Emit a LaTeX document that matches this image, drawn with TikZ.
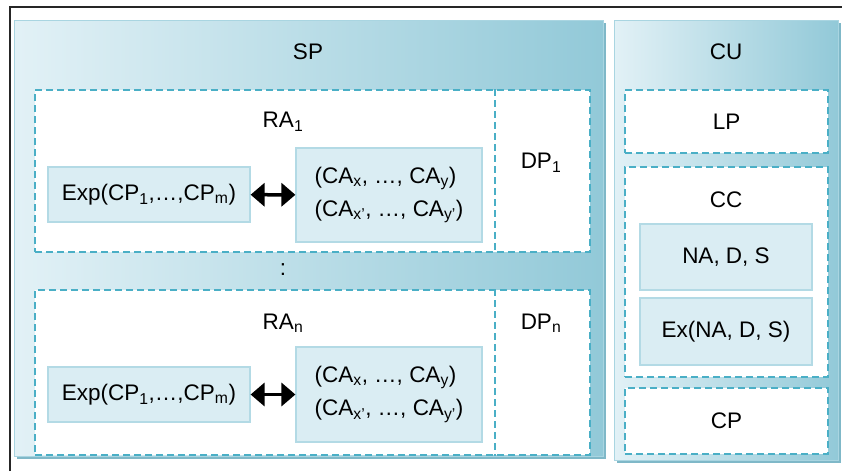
\documentclass[tikz,border=0pt]{standalone}
\usepackage{fontspec}
\setmainfont{Liberation Sans}
\usetikzlibrary{shadows,arrows.meta}

\definecolor{panelleft}{HTML}{E2F1F6}
\definecolor{panelright}{HTML}{92C9D8}
\definecolor{paneledge}{HTML}{A9D5E1}
\definecolor{shadowblue}{HTML}{7FB8C8}
\definecolor{dashblue}{HTML}{4AAFC6}
\definecolor{itemfill}{HTML}{DAEDF3}
\definecolor{itemedge}{HTML}{B3DAE5}

\tikzset{
  panel/.style={draw=paneledge, line width=1pt, left color=panelleft, right color=panelright,
    drop shadow={shadow xshift=3pt, shadow yshift=-3pt, fill=shadowblue, opacity=1}, inner sep=0pt},
  dashbox/.style={draw=dashblue, line width=1.6pt, dash pattern=on 7pt off 4pt, fill=white, inner sep=0pt},
  dashline/.style={draw=dashblue, line width=1.6pt, dash pattern=on 7pt off 4pt},
  itembox/.style={draw=itemedge, line width=1.2pt, fill=itemfill, inner sep=0pt},
  txt/.style={font=\fontsize{22.5}{33}\selectfont},
  link/.style={line width=3.5pt, {Triangle[length=14pt,width=23pt]}-{Triangle[length=14pt,width=23pt]}}
}

\begin{document}
\begin{tikzpicture}[x=1pt,y=-1pt]
\useasboundingbox (0,0) rectangle (842,471);
% frame
\draw[line width=2pt, black!85] (10,471) -- (10,7) -- (842,7);

% panels
\path (308.5,238) node (sp) [panel, minimum width=589pt, minimum height=436pt] {};
\path (726,240) node (cu) [panel, minimum width=224pt, minimum height=440pt] {};
\path (308,52) node (spl) [txt] {SP};
\path (726,52) node (cul) [txt] {CU};

% RA 1
\path (312.5,171) node (ra1) [dashbox, minimum width=555pt, minimum height=162pt] {};
\draw[dashline] ([xshift=-96pt]ra1.north east) -- ([xshift=-96pt]ra1.south east);
\path (283,122) node (ra1l) [txt] {RA\textsubscript{1}};
\path (541,163) node (dp1) [txt] {DP\textsubscript{1}};
\path (149,194.5) node (exp1) [itembox, txt, minimum width=202pt, minimum height=55pt] {Exp(CP\textsubscript{1},…,CP\textsubscript{m})};
\path (389,195) node (ca1) [itembox, txt, align=left, minimum width=186pt, minimum height=94pt]
  {(CA\textsubscript{x}, …, CA\textsubscript{y})\\(CA\textsubscript{x'}, …, CA\textsubscript{y'})};
\draw[link] (exp1) -- (ca1);

\path (283,270) node (dots) [txt] {:};

% RA n
\path (312.5,372.5) node (ran) [dashbox, minimum width=555pt, minimum height=165pt] {};
\draw[dashline] ([xshift=-96pt]ran.north east) -- ([xshift=-96pt]ran.south east);
\path (283,323) node (ranl) [txt] {RA\textsubscript{n}};
\path (541,323) node (dpn) [txt] {DP\textsubscript{n}};
\path (149,394.5) node (expn) [itembox, txt, minimum width=202pt, minimum height=55pt] {Exp(CP\textsubscript{1},…,CP\textsubscript{m})};
\path (389,394.5) node (can) [itembox, txt, align=left, minimum width=186pt, minimum height=95pt]
  {(CA\textsubscript{x}, …, CA\textsubscript{y})\\(CA\textsubscript{x'}, …, CA\textsubscript{y'})};
\draw[link] (expn) -- (can);

% CU parts
\path (726.5,121.5) node (lp) [dashbox, txt, minimum width=203pt, minimum height=63pt] {LP};
\path (726.5,272) node (cc) [dashbox, minimum width=203pt, minimum height=210pt] {};
\path (726,200) node (ccl) [txt] {CC};
\path (726,257) node (nds) [itembox, txt, minimum width=172pt, minimum height=66pt] {NA, D, S};
\path (726,331.5) node (exnds) [itembox, txt, minimum width=172pt, minimum height=67pt] {Ex(NA, D, S)};
\path (726.5,421) node (cp) [dashbox, txt, minimum width=203pt, minimum height=66pt] {CP};
\end{tikzpicture}
\end{document}
